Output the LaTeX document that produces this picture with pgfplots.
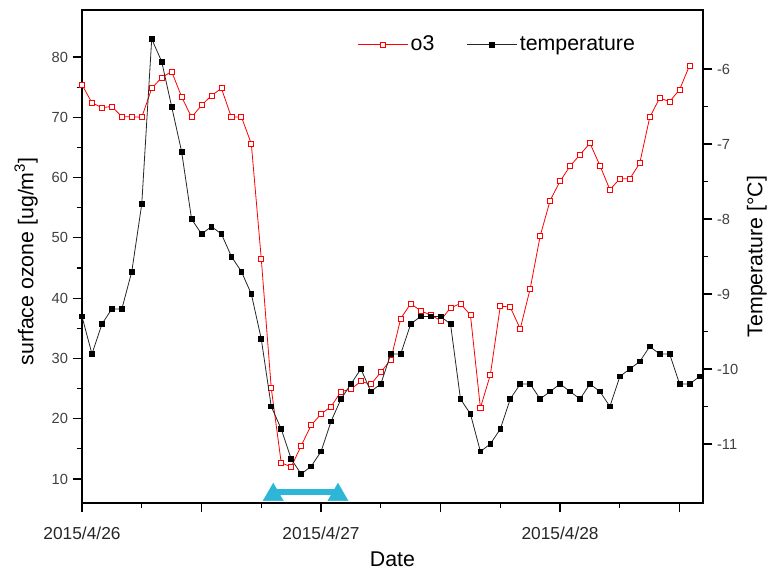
\documentclass[border=0pt]{standalone}
\usepackage{pgfplots}
\pgfplotsset{compat=1.18}
\usepackage{fontspec}
\setmainfont{Liberation Sans}
\definecolor{arrowc}{RGB}{45,182,215}
\definecolor{o3red}{RGB}{255,0,0}
\begin{document}
\begin{tikzpicture}
\path[use as bounding box] (0,0) rectangle (577.5pt,432pt);
\pgfplotsset{
  common/.style={
    scale only axis, width=465.75pt, height=369.75pt,
    at={(61.5pt,54.75pt)}, anchor=south west,
    xmin=0, xmax=62.35,
    tick align=outside,
    major tick length=7pt, minor tick length=4pt,
    every tick/.style={black, line width=0.9pt},
    axis line style={line width=0.9pt},
    /pgf/number format/assume math mode=true,
    yticklabel style={font=\fontsize{11}{13}\selectfont, text=black!75},
    label style={font=\fontsize{16}{19}\selectfont, inner sep=0pt},
  }
}
\begin{axis}[common,
  ymin=6.02, ymax=87.8,
  xtick={0,12,...,60}, xticklabels={2015/4/26,,2015/4/27,,2015/4/28,},
  minor x tick num=1,
  ytick={10,20,...,80}, minor y tick num=1,
  xtick pos=left, ytick pos=left,
  xticklabel style={font=\fontsize{13}{15}\selectfont, text=black!85, yshift=-7.5pt},
  xlabel={Date}, ylabel={surface ozone [ug/m\textsuperscript{3}]},
  xlabel style={at={(axis description cs:0.5,-0.1293)}, anchor=base},
  ylabel style={at={(axis description cs:-0.0709,0.49)}, anchor=south},
]
% annotation arrow
\addplot[arrowc, line width=4.5pt, forget plot] coordinates {(19.2,7.84) (25.7,7.84)};
\addplot[only marks, mark=triangle*, mark size=8.7pt, color=arrowc, forget plot] coordinates {(19.2,7.36) (25.7,7.36)};
% ozone
\addplot[o3red, line width=0.6pt, mark=square*, mark size=1.9pt, mark options={fill=white, draw=o3red, solid}] coordinates {
(0,75.4) (1,72.4) (2,71.6) (3,71.8) (4,70.1) (5,70.1) (6,70.0) (7,74.8) (8,76.6) (9,77.6)
(10,73.4) (11,70.0) (12,72.0) (13,73.6) (14,74.8) (15,70.0) (16,70.1) (17,65.6) (18,46.5) (19,25.1)
(20,12.7) (21,12.0) (22,15.5) (23,18.9) (24,20.8) (25,22.0) (26,24.5) (27,24.9) (28,26.2) (29,25.7)
(30,27.7) (31,29.8) (32,36.6) (33,39.1) (34,37.9) (35,37.2) (36,36.3) (37,38.4) (38,39.1) (39,37.2)
(40,21.8) (41,27.3) (42,38.7) (43,38.5) (44,34.9) (45,41.6) (46,50.3) (47,56.2) (48,59.4) (49,61.9)
(50,63.8) (51,65.7) (52,62.0) (53,58.0) (54,59.8) (55,59.8) (56,62.4) (57,70.0) (58,73.2) (59,72.6)
(60,74.6) (61,78.6)
};
\end{axis}
\begin{axis}[common,
  axis x line=none, axis y line*=right,
  every outer y axis line/.append style={-},
  ymin=-11.787, ymax=-5.213,
  ytick={-11,-10,...,-6}, minor y tick num=1,
  ylabel={Temperature [°C]},
  ylabel style={at={(axis description cs:1.0704,0.5)}, anchor=north, rotate=0},
  legend style={at={(axis description cs:0.4428,0.93)}, anchor=west, draw=none, fill=none,
    font=\fontsize{16}{19}\selectfont, inner sep=0pt},
  legend columns=2,
  legend cell align=left,
  /tikz/every even column/.append style={column sep=22pt},
  legend image code/.code={\draw[mark repeat=2,mark phase=2,#1] plot coordinates {(0pt,0pt) (18.75pt,0pt) (37.5pt,0pt)};},
]
\addlegendimage{o3red, line width=0.6pt, mark=square*, mark size=1.9pt, mark options={fill=white, draw=o3red, solid}}
\addlegendentry{o3}
\addplot[black!85, line width=0.6pt, mark=square*, mark size=1.8pt, mark options={fill=black, draw=black, solid}] coordinates {
(0,-9.3) (1,-9.8) (2,-9.4) (3,-9.2) (4,-9.2) (5,-8.7) (6,-7.8) (7,-5.6) (8,-5.9) (9,-6.5)
(10,-7.1) (11,-8.0) (12,-8.2) (13,-8.1) (14,-8.2) (15,-8.5) (16,-8.7) (17,-9.0) (18,-9.6) (19,-10.5)
(20,-10.8) (21,-11.2) (22,-11.4) (23,-11.3) (24,-11.1) (25,-10.7) (26,-10.4) (27,-10.2) (28,-10.0) (29,-10.3)
(30,-10.2) (31,-9.8) (32,-9.8) (33,-9.4) (34,-9.3) (35,-9.3) (36,-9.3) (37,-9.4) (38,-10.4) (39,-10.6)
(40,-11.1) (41,-11.0) (42,-10.8) (43,-10.4) (44,-10.2) (45,-10.2) (46,-10.4) (47,-10.3) (48,-10.2) (49,-10.3)
(50,-10.4) (51,-10.2) (52,-10.3) (53,-10.5) (54,-10.1) (55,-10.0) (56,-9.9) (57,-9.7) (58,-9.8) (59,-9.8)
(60,-10.2) (61,-10.2) (62,-10.1)
};
\addlegendentry{temperature}
\end{axis}
\end{tikzpicture}
\end{document}
